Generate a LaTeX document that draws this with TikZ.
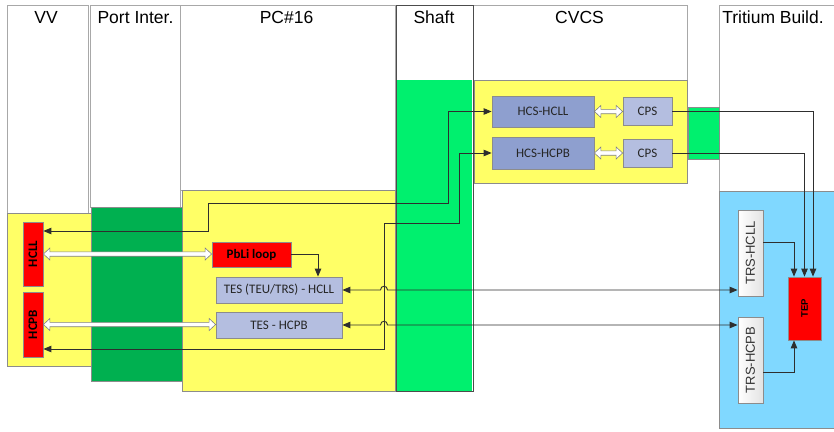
\documentclass[tikz,border=0pt]{standalone}
\usepackage{fontspec}
\usepackage{graphicx}
\setmainfont{Liberation Sans}
\newfontfamily\carlito{Carlito}
\usetikzlibrary{arrows.meta,calc}
\definecolor{ylw}{HTML}{FFFF66}
\definecolor{dgreen}{HTML}{00B050}
\definecolor{bgreen}{HTML}{00F06E}
\definecolor{lblue}{HTML}{80D8FF}
\definecolor{hcsblue}{HTML}{8E9FCF}
\definecolor{tesblue}{HTML}{B4BEE0}
\definecolor{bordergray}{HTML}{8C8C8C}
\definecolor{hdrgray}{HTML}{A8A8A8}
\definecolor{linegray}{HTML}{2E2E2E}
\newcommand{\hollowarrow}[2]{%
  \draw[hollow] let \p1=#1, \p2=#2 in
   (\x1,\y1) -- (\x1+6.5pt,\y1+6pt) -- (\x1+6.5pt,\y1+2.2pt) -- (\x2-6.5pt,\y1+2.2pt) -- (\x2-6.5pt,\y1+6pt) -- (\x2,\y1) -- (\x2-6.5pt,\y1-6pt) -- (\x2-6.5pt,\y1-2.2pt) -- (\x1+6.5pt,\y1-2.2pt) -- (\x1+6.5pt,\y1-6pt) -- cycle;}
\begin{document}
\begin{tikzpicture}[x=1pt,y=-1pt,
  hdr/.style={draw=hdrgray, line width=0.8pt, fill=white},
  zone/.style={draw=bordergray, line width=0.6pt},
  hdrtext/.style={font=\fontsize{17.5}{20}\selectfont, anchor=base, inner sep=0pt},
  sysbox/.style={draw=bordergray, line width=0.8pt, inner sep=0pt, font=\carlito\fontsize{13}{15}\selectfont, text=black!85},
  redbox/.style={draw=bordergray, line width=0.8pt, fill=red, inner sep=0pt, font=\carlito\bfseries\fontsize{13}{15}\selectfont},
  trsbox/.style={draw=bordergray, line width=0.8pt, left color=white, right color=gray!22, inner sep=0pt, font=\fontsize{13}{15}\selectfont, text=black!80},
  conn/.style={draw=linegray, line width=0.9pt},
  hollow/.style={draw=gray, fill=white, line width=0.6pt},
  >={Triangle[length=8pt,width=6.5pt]}
]
\clip (0,0) rectangle (834,431);
\fill[white] (0,0) rectangle (834,431);
% column headers
\draw[hdr] (7,5) rectangle (88,213);
\draw[hdr] (90,5) rectangle (180,207);
\draw[hdr] (180,5) rectangle (395,190);
\draw[hdr] (473,5) rectangle (687,80);
\draw[hdr] (719,5) rectangle (840,191);
% zones
\fill[ylw, zone] (7,213) rectangle (91,366);
\fill[dgreen, zone] (91,207) rectangle (183,381);
\fill[ylw, zone] (182,190) rectangle (395,391);
\fill[bgreen] (397,80) rectangle (472,391);
\draw[black!70, line width=1pt] (396,5) rectangle (473,391);
\fill[ylw, zone] (474,80) rectangle (687,183);
\fill[bgreen, zone] (688,107) rectangle (719,159);
\fill[lblue, zone] (719,191) rectangle (840,428);
% header texts
\node[hdrtext] (tvv) at (46,23) {VV};
\node[hdrtext] (tpi) at (135.5,23) {Port Inter.};
\node[hdrtext] (tpc) at (286.5,23) {PC\#16};
\node[hdrtext] (tsh) at (434,23) {Shaft};
\node[hdrtext] (tcv) at (579.5,23) {CVCS};
\node[hdrtext] (ttb) at (773,23) {Tritium Build.};
% boxes
\node[sysbox, fill=hcsblue, minimum width=102pt, minimum height=31pt] (hcsll) at (543,111.5) {HCS-HCLL};
\node[sysbox, fill=hcsblue, minimum width=102pt, minimum height=32pt] (hcspb) at (543,153) {HCS-HCPB};
\node[sysbox, fill=tesblue, minimum width=49pt, minimum height=28pt] (cps1) at (647.5,111) {CPS};
\node[sysbox, fill=tesblue, minimum width=49pt, minimum height=28pt] (cps2) at (647.5,153) {CPS};
\node[redbox, minimum width=79pt, minimum height=25pt] (pbli) at (251.5,254.5) {PbLi loop};
\node[sysbox, fill=tesblue, minimum width=126pt, minimum height=26pt] (tesll) at (279,290) {TES (TEU/TRS) - HCLL};
\node[sysbox, fill=tesblue, minimum width=126pt, minimum height=26pt] (tespb) at (279,325) {TES - HCPB};
\node[redbox, minimum width=20pt, minimum height=64pt] (hcll) at (33,254) {\rotatebox{90}{HCLL}};
\node[redbox, minimum width=20pt, minimum height=65pt] (hcpb) at (33,324.5) {\rotatebox{90}{HCPB}};
\node[trsbox, minimum width=25pt, minimum height=86pt] (trsll) at (750.5,253) {\rotatebox{90}{TRS-HCLL}};
\node[trsbox, minimum width=25pt, minimum height=86pt] (trspb) at (750.5,360) {\rotatebox{90}{TRS-HCPB}};
\node[redbox, font=\bfseries\fontsize{9.5}{10}\selectfont, minimum width=33pt, minimum height=63pt] (tep) at (804.5,308.5) {\rotatebox{90}{TEP}};
% routing points
\coordinate (j1) at (208,231);
\coordinate (j2) at (448,203);
\coordinate (k1) at (384,349);
\coordinate (k2) at (459,223);
% connectors
\draw[conn,<->] (hcll.east |- j1) -- (j1) |- (j2) |- (hcsll.west);
\draw[conn,<->] (hcpb.east |- k1) -- (k1) |- (k2) |- (hcspb.west);
\draw[conn,->] (cps1.east) -| ([xshift=8.5pt]tep.north);
\draw[conn,->] (cps2.east) -| (tep.north);
\draw[conn,->] ([yshift=11pt]trsll.east) -| ([xshift=-10.5pt]tep.north);
\draw[conn,->] ([yshift=-12pt]trspb.east) -| ([xshift=-10.5pt]tep.south);
\draw[conn,->] (pbli.east) -| ([xshift=39pt]tesll.north);
\draw[conn,<->] (tesll.east) -- ($(tesll.east -| k1)+(-3.5,0)$) .. controls +(0,-5) and +(0,-5) .. ($(tesll.east -| k1)+(3.5,0)$) -- (tesll.east -| trsll.west);
\draw[conn,<->] (tespb.east) -- ($(tespb.east -| k1)+(-3.5,0)$) .. controls +(0,-5) and +(0,-5) .. ($(tespb.east -| k1)+(3.5,0)$) -- (tespb.east -| trspb.west);
% hollow double arrows
\hollowarrow{(hcll.east)}{(hcll.east -| pbli.west)}
\hollowarrow{(hcpb.east)}{(hcpb.east -| tespb.west)}
\hollowarrow{(hcsll.east)}{(hcsll.east -| cps1.west)}
\hollowarrow{(hcspb.east)}{(hcspb.east -| cps2.west)}
\end{tikzpicture}
\end{document}
